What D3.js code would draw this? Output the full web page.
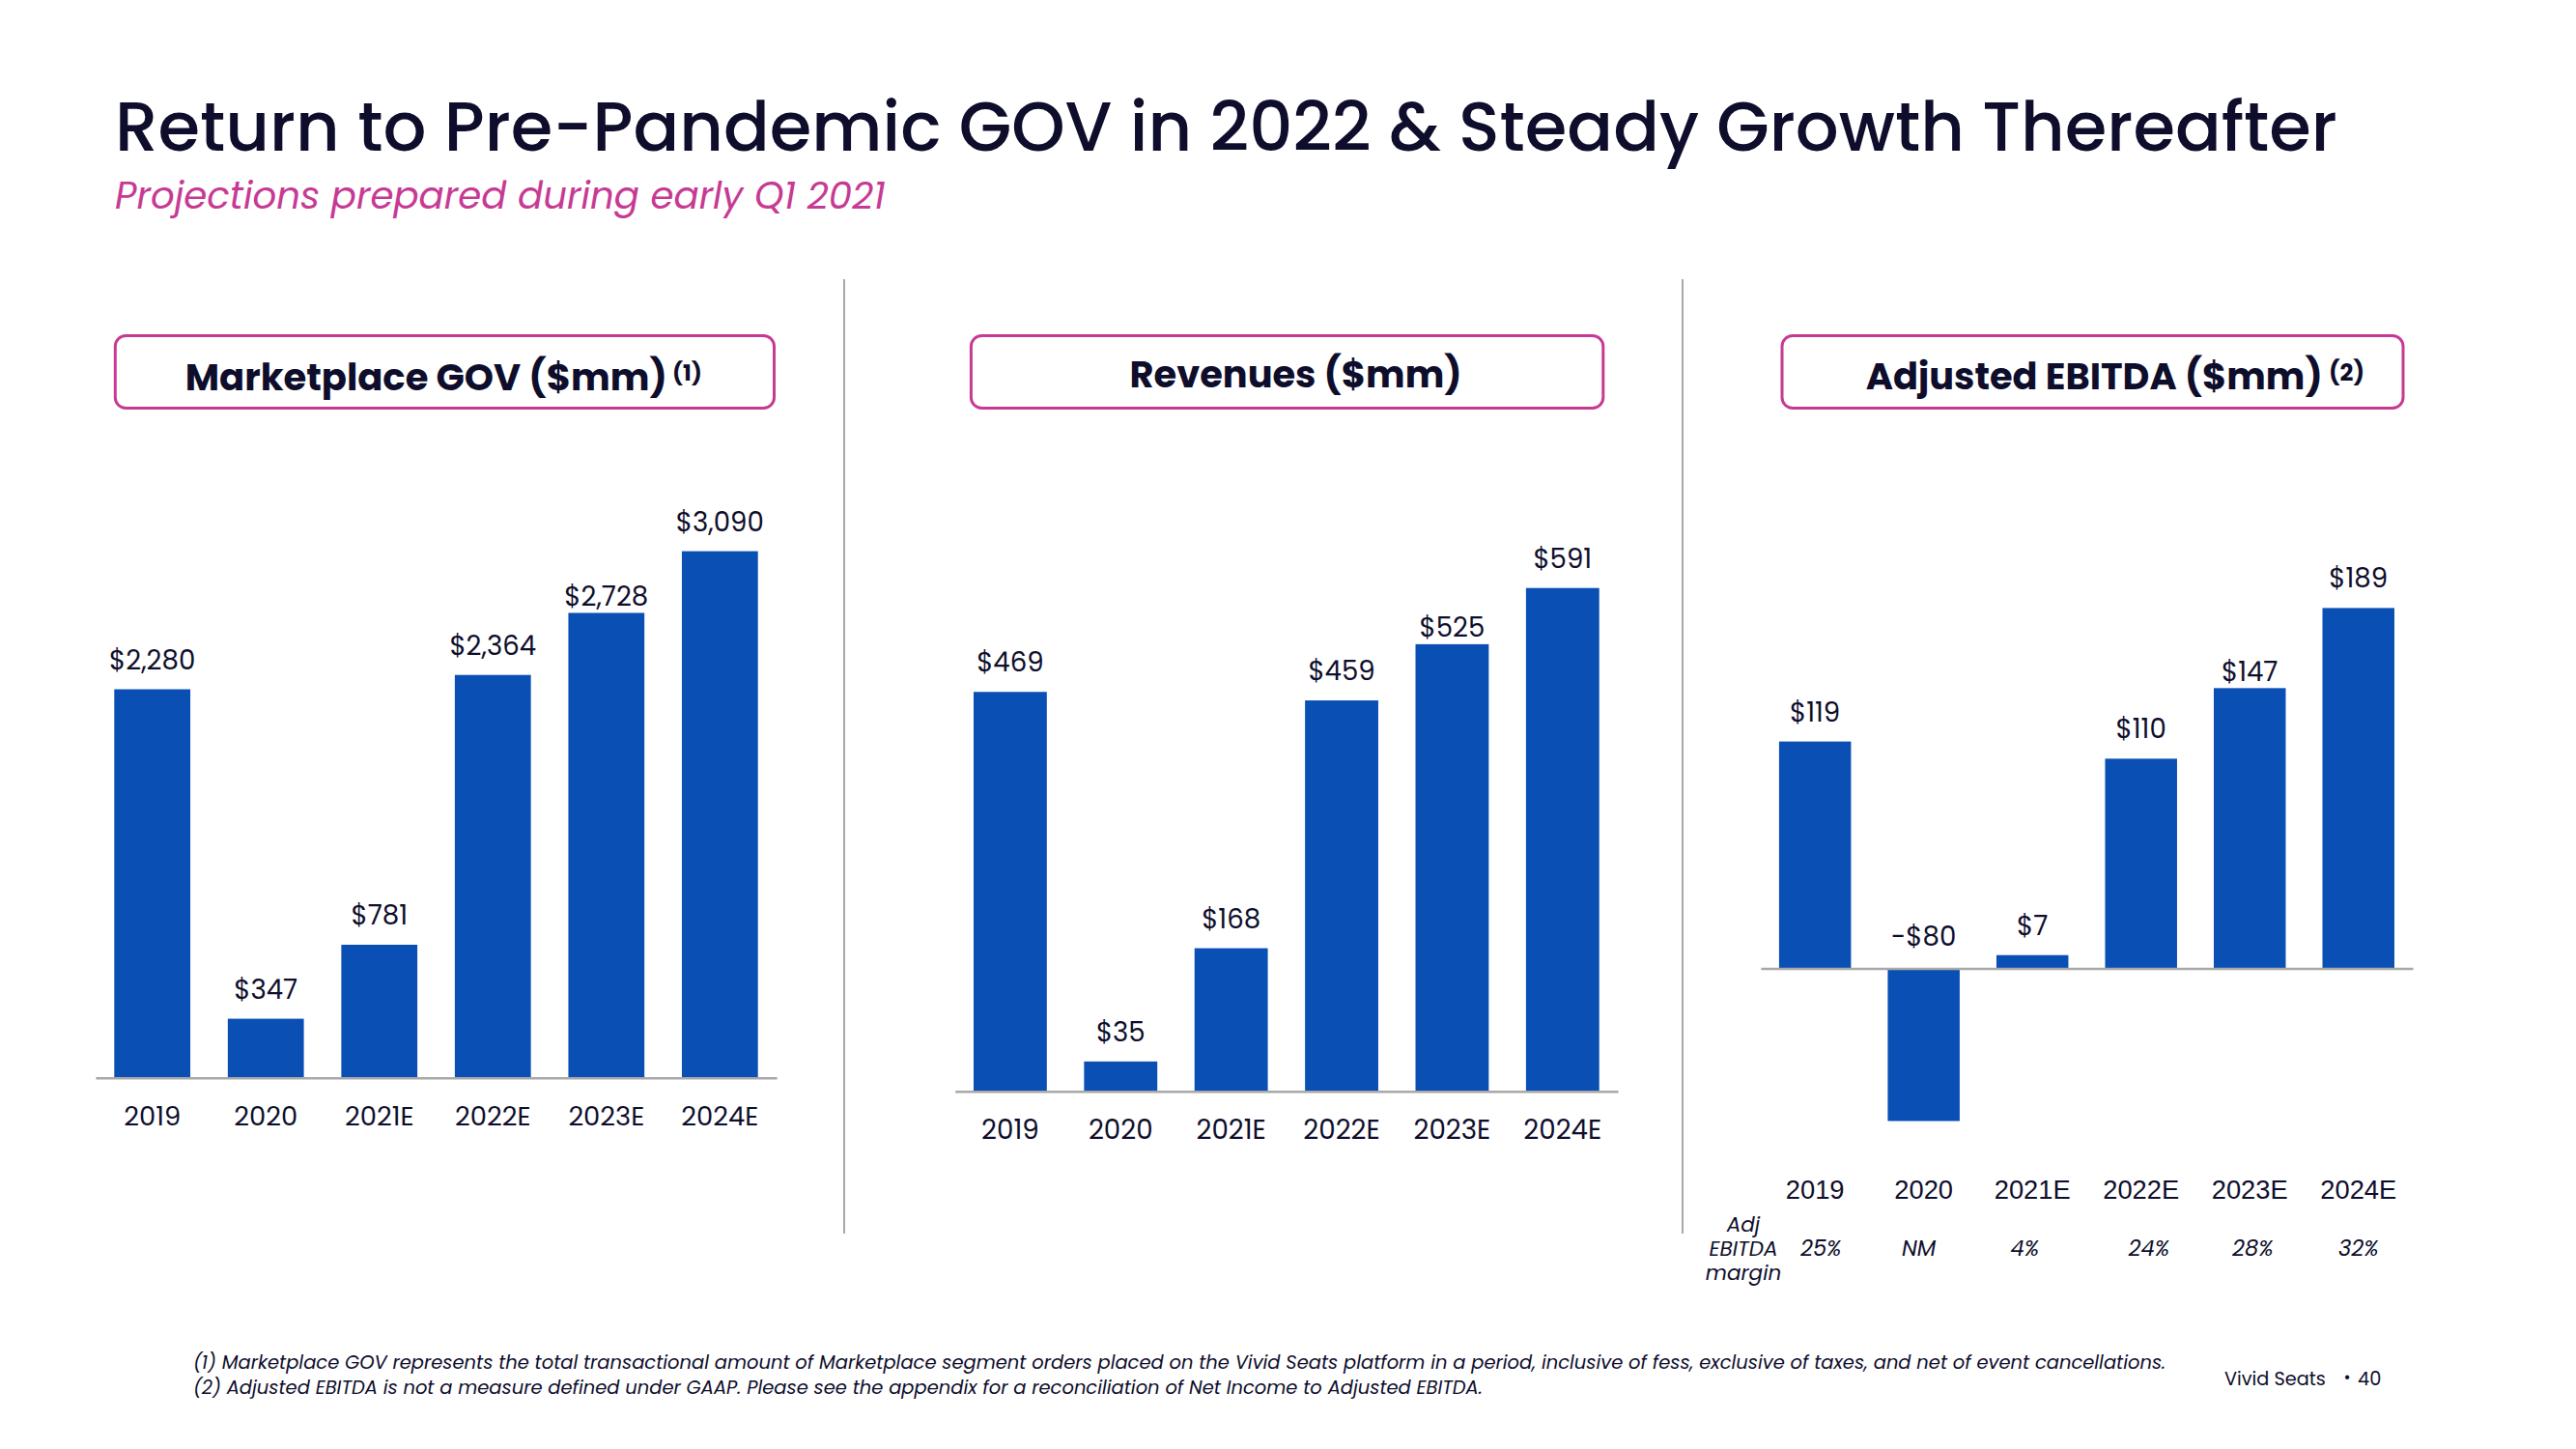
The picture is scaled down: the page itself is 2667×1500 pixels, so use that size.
<!DOCTYPE html>
<html><head><meta charset="utf-8">
<script src="https://cdn.jsdelivr.net/npm/d3@7"></script>
<style>html,body{margin:0;padding:0;background:#fff;} svg{display:block;}</style>
</head><body>
<svg id="chart" width="2667" height="1500"></svg>
<script>
// ---------- DATA ----------
const years = ["2019", "2020", "2021E", "2022E", "2023E", "2024E"];
const govValues = [2280, 347, 781, 2364, 2728, 3090];
const govLabels = ["$2,280", "$347", "$781", "$2,364", "$2,728", "$3,090"];
const revValues = [469, 35, 168, 459, 525, 591];
const revLabels = ["$469", "$35", "$168", "$459", "$525", "$591"];
const ebitdaValues = [119, -80, 7, 110, 147, 189];
const ebitdaLabels = ["$119", "-$80", "$7", "$110", "$147", "$189"];
const marginLabels = ["25%", "NM", "4%", "24%", "28%", "32%"];
const marginRowTitle = ["Adj", "EBITDA", "margin"];
const titleText = "Return to Pre-Pandemic GOV in 2022 & Steady Growth Thereafter";
const subtitleText = "Projections prepared during early Q1 2021";
const footnotes = [
  "(1) Marketplace GOV represents the total transactional amount of Marketplace segment orders placed on the Vivid Seats platform in a period, inclusive of fess, exclusive of taxes, and net of event cancellations.",
  "(2) Adjusted EBITDA is not a measure defined under GAAP. Please see the appendix for a reconciliation of Net Income to Adjusted EBITDA."
];

// ---------- STYLE / LAYOUT ----------
const INK = "#0E0E2C", BLUE = "#0A50B4", PINK = "#C73A94", GRAY = "#A8A8A8";
const SANS = "Poppins, Inter, 'Open Sans', sans-serif";
const ARIAL = "'Liberation Sans', Arial, sans-serif";
const labelGap = [21, 21, 21, 21, 7.5, 21];     // gap between bar end and its value label
const marginShift = [6, -5, -8, 8, 3, 0];        // margin row text nudges

const svg = d3.select("#chart");
svg.append("rect").attr("width", 2667).attr("height", 1500).attr("fill", "#fff");

function fit(sel, target) {
  const w = sel.node().getComputedTextLength();
  const fs = parseFloat(sel.attr("font-size"));
  const nf = fs * target / w;
  sel.attr("font-size", nf);
  return nf;
}
function txt(x, y, s, fs, opts = {}) {
  return svg.append("text").attr("x", x).attr("y", y)
    .attr("font-family", opts.family || SANS)
    .attr("font-size", fs)
    .attr("font-weight", opts.weight || 400)
    .attr("font-style", opts.style || "normal")
    .attr("fill", opts.fill || INK)
    .attr("text-anchor", opts.anchor || "start")
    .text(s);
}

// ---------- TITLE ----------
fit(txt(119, 156, titleText, 80, {weight: 500}), 2301);
fit(txt(119, 216, subtitleText, 38, {style: "italic", fill: PINK}), 798);

// ---------- DIVIDERS ----------
[874, 1742].forEach(x => svg.append("line").attr("x1", x).attr("x2", x)
  .attr("y1", 289).attr("y2", 1277).attr("stroke", GRAY).attr("stroke-width", 2));

// value label font size (shared)
const probe = txt(0, -100, "$3,090", 28);
const valueFS = fit(probe, 91);
probe.remove();

// ---------- PANELS ----------
function panel(cfg) {
  const x = d3.scaleBand().domain(years).range(cfg.xr)
    .paddingInner(cfg.pad).paddingOuter(cfg.pad / 2);
  const y = d3.scaleLinear().domain(cfg.dom).range(cfg.yr);
  const g = svg.append("g");

  // header box
  g.append("rect").attr("x", cfg.box[0]).attr("y", cfg.box[1])
    .attr("width", cfg.box[2]).attr("height", cfg.box[3])
    .attr("rx", 11).attr("fill", "#fff").attr("stroke", PINK).attr("stroke-width", 3);
  fit(txt(cfg.head.x, cfg.head.y, cfg.head.text, 40, {weight: 700}), cfg.head.w);
  if (cfg.sup) fit(txt(cfg.sup.x, cfg.sup.y, cfg.sup.text, 22, {weight: 700}), cfg.sup.w);

  // bars
  g.selectAll("rect.bar").data(cfg.values).join("rect").attr("class", "bar")
    .attr("x", (d, i) => x(years[i])).attr("width", x.bandwidth())
    .attr("y", d => y(Math.max(0, d)))
    .attr("height", d => Math.abs(y(d) - y(0)))
    .attr("fill", BLUE);

  // axis
  const axis = g.append("g").attr("transform", `translate(0,${y(0)})`)
    .call(d3.axisBottom(x).tickSize(0).tickSizeOuter(0));
  axis.select(".domain").attr("stroke", GRAY).attr("stroke-width", 2.5);
  const ticks = axis.selectAll("text").attr("y", cfg.labelOffset).attr("dy", 0)
    .attr("font-family", cfg.catFont).attr("font-size", 28).attr("fill", INK);
  const last = d3.select(ticks.nodes()[ticks.size() - 1]);
  const cfs = 28 * cfg.catW / last.node().getComputedTextLength();
  ticks.attr("font-size", cfs);

  // value labels
  g.selectAll("text.val").data(cfg.values).join("text").attr("class", "val")
    .attr("x", (d, i) => x(years[i]) + x.bandwidth() / 2)
    .attr("y", (d, i) => d >= 0 ? y(d) - labelGap[i] : y(0) - 24)
    .attr("text-anchor", "middle").attr("font-family", SANS)
    .attr("font-size", valueFS).attr("fill", INK)
    .text((d, i) => cfg.labels[i]);
  return x;
}

panel({
  xr: [98.9, 804.1], pad: 0.33, dom: [0, 3090], yr: [1115.8, 570.6],
  values: govValues, labels: govLabels, labelOffset: 49.5, catFont: SANS, catW: 80,
  box: [119.3, 347.5, 682.2, 75],
  head: {x: 191.8, y: 404, text: "Marketplace GOV ($mm)", w: 499},
  sup: {x: 696, y: 394, text: "(1)", w: 31}
});
panel({
  xr: [988.7, 1675], pad: 0.337, dom: [0, 591], yr: [1129.7, 608.7],
  values: revValues, labels: revLabels, labelOffset: 49, catFont: SANS, catW: 81,
  box: [1005.4, 347.5, 654.4, 75],
  head: {x: 1169.6, y: 401, text: "Revenues ($mm)", w: 344}
});
const xe = panel({
  xr: [1822.9, 2498], pad: 0.338, dom: [-80, 189], yr: [1160.5, 629.4],
  values: ebitdaValues, labels: ebitdaLabels, labelOffset: 238, catFont: ARIAL, catW: 79,
  box: [1845, 347.5, 643, 75],
  head: {x: 1931.8, y: 402.5, text: "Adjusted EBITDA ($mm)", w: 473},
  sup: {x: 2411, y: 394, text: "(2)", w: 37}
});

// ---------- MARGIN ROW ----------
const mfs = (() => { const p = txt(0, -100, "EBITDA", 22, {style: "italic"}); const f = fit(p, 71); p.remove(); return f; })();
const stack = svg.append("text").attr("font-family", SANS).attr("font-style", "italic")
  .attr("font-size", mfs).attr("fill", INK).attr("text-anchor", "middle");
stack.selectAll("tspan").data(marginRowTitle).join("tspan")
  .attr("x", 1805).attr("y", (d, i) => 1275 + i * 25).text(d => d);
svg.append("g").selectAll("text").data(marginLabels).join("text")
  .attr("x", (d, i) => xe(years[i]) + xe.bandwidth() / 2 + marginShift[i])
  .attr("y", 1300).attr("text-anchor", "middle")
  .attr("font-family", SANS).attr("font-style", "italic")
  .attr("font-size", mfs * 1.05).attr("fill", INK).text(d => d);

// ---------- FOOTNOTES ----------
const f1 = txt(200, 1417, footnotes[0], 20, {style: "italic"});
const ffs = fit(f1, 2043);
txt(200, 1443, footnotes[1], ffs, {style: "italic"});

const vs = fit(txt(2303, 1434, "Vivid Seats", 20), 105);
txt(2430, 1432, "•", vs * 0.9, {anchor: "middle"});
txt(2441, 1434, "40", vs);
</script>
</body></html>
